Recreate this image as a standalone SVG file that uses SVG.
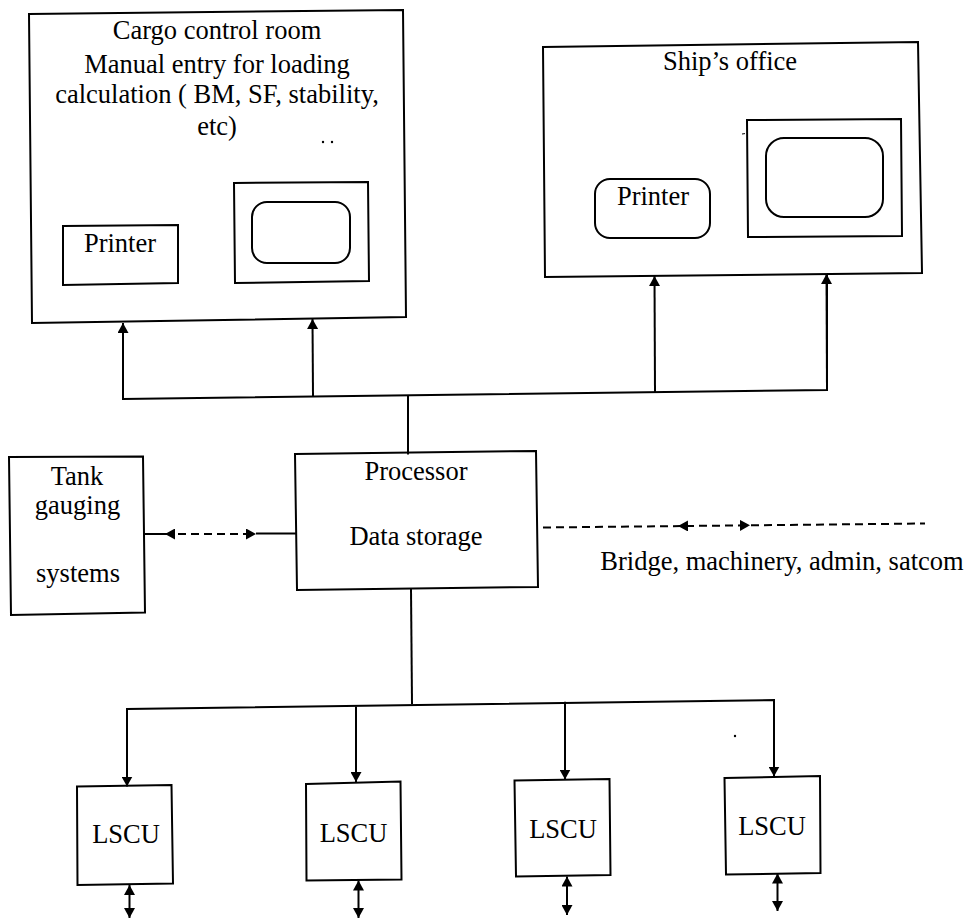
<svg xmlns="http://www.w3.org/2000/svg" width="973" height="920" viewBox="0 0 973 920">
  <style>
    .box { fill: #fff; stroke: #000; stroke-width: 2; stroke-linejoin: miter; }
    .inner { fill: none; stroke: #000; stroke-width: 2; }
    .lbl { font-family: "Liberation Serif", "Times New Roman", serif; font-size: 26.5px; fill: #000; text-anchor: middle; }
    .wire { fill: none; stroke: #000; stroke-width: 2; }
    .dash { fill: none; stroke: #000; stroke-width: 2; stroke-dasharray: 8 5; }
    .arrow { marker-end: url(#head); }
    .both { marker-start: url(#head); marker-end: url(#head); }
  </style>
  <defs>
    <marker id="head" viewBox="0 0 10 11" refX="10" refY="5.5" markerWidth="10" markerHeight="11" markerUnits="userSpaceOnUse" orient="auto-start-reverse">
      <path d="M0,0 L10,5.5 L0,11 z" fill="#000"/>
    </marker>
  </defs>
  <rect width="973" height="920" fill="#fff"/>

  <!-- Cargo control room -->
  <g id="cargo-control-room">
    <path class="box" d="M29,14 L403,10 L406,317 L32,323 Z"/>
    <text class="lbl" x="217" y="39">Cargo control room</text>
    <text class="lbl" x="217" y="73">Manual entry for loading</text>
    <text class="lbl" x="217" y="103">calculation ( BM, SF, stability,</text>
    <text class="lbl" x="217" y="135">etc)</text>
    <circle cx="323" cy="142" r="1.2" fill="#000"/>
    <circle cx="332" cy="142" r="1.2" fill="#000"/>
    <g id="cargo-printer">
      <path class="box" d="M63,226 L178,225 L178,283 L63,285 Z"/>
      <text class="lbl" x="120" y="252">Printer</text>
    </g>
    <g id="cargo-monitor">
      <path class="box" d="M234,183 L368,182 L369,281 L235,283 Z"/>
      <rect class="inner" x="252" y="202" width="98" height="61" rx="15"/>
    </g>
  </g>

  <!-- Ship's office -->
  <g id="ships-office">
    <path class="box" d="M543,47 L918,42 L922,273 L545,277 Z"/>
    <text class="lbl" x="730" y="70">Ship’s office</text>
    <path d="M742,134 L745,133.6" stroke="#000" stroke-width="1"/>
    <g id="office-printer">
      <rect class="box" x="595" y="179" width="115" height="59" rx="15"/>
      <text class="lbl" x="653" y="205">Printer</text>
    </g>
    <g id="office-monitor">
      <path class="box" d="M747,120 L901,119 L902,236 L748,237 Z"/>
      <rect class="inner" x="766" y="138" width="117" height="79" rx="18"/>
    </g>
  </g>

  <!-- Processor -->
  <g id="processor">
    <path class="box" d="M295,454 L536,451 L538,587 L297,590 Z"/>
    <text class="lbl" x="416" y="480">Processor</text>
    <text class="lbl" x="416" y="545">Data storage</text>
  </g>

  <!-- Tank gauging systems -->
  <g id="tank-gauging">
    <path class="box" d="M9,457 L143,456.5 L145,612.5 L11,615 Z"/>
    <text class="lbl" x="77" y="485">Tank</text>
    <text class="lbl" x="77.5" y="514">gauging</text>
    <text class="lbl" x="78" y="582">systems</text>
  </g>

  <!-- External systems label -->
  <g id="external-systems">
    <text class="lbl" x="782" y="570">Bridge, machinery, admin, satcom</text>
  </g>

  <!-- Local sampling control units -->
  <g id="lscu-1">
    <path class="box" d="M77,786.5 L171.5,785 L173,883.5 L77.5,885 Z"/>
    <text class="lbl" x="126" y="843">LSCU</text>
  </g>
  <g id="lscu-2">
    <path class="box" d="M306,784 L400.5,781.5 L401.5,879.5 L306.5,880.5 Z"/>
    <text class="lbl" x="353.5" y="841.5">LSCU</text>
  </g>
  <g id="lscu-3">
    <path class="box" d="M514.5,780.5 L609.5,779 L610.5,875 L516,876.5 Z"/>
    <text class="lbl" x="563" y="838">LSCU</text>
  </g>
  <g id="lscu-4">
    <path class="box" d="M724.5,778 L820,776 L820.5,873 L726,874.5 Z"/>
    <text class="lbl" x="772" y="835">LSCU</text>
  </g>

  <!-- Connectors -->
  <g id="connectors">
    <!-- upper bus to the cargo control room and ship's office -->
    <path class="wire" d="M123,323 L123,399 L827,390 L827,274"/>
    <path class="wire arrow" d="M123,399 L123,323"/>
    <path class="wire arrow" d="M313,396.6 L312.5,319"/>
    <path class="wire arrow" d="M655,392.2 L654.5,276"/>
    <path class="wire arrow" d="M827,390 L826.5,274"/>
    <path class="wire" d="M408,395.4 L408,454.5"/>

    <!-- tank gauging link -->
    <path class="wire" d="M145,534 L165,534"/>
    <path class="dash both" d="M165,534 L256,534"/>
    <path class="wire" d="M256,533.5 L296,533.5"/>

    <!-- link to bridge, machinery, admin, satcom -->
    <path class="dash" d="M543,527.5 L925,523.5"/>
    <path fill="none" stroke="none" class="both" d="M678,526.1 L750,525.3"/>

    <!-- lower bus to the LSCUs -->
    <path class="wire" d="M411,589 L412,704"/>
    <path class="wire" d="M127,786 L127,709 L774,700 L774,776"/>
    <path class="wire arrow" d="M127,709 L127,786.5"/>
    <path class="wire arrow" d="M356,706.5 L356,782"/>
    <path class="wire arrow" d="M565,701.7 L565,779.5"/>
    <path class="wire arrow" d="M774,700 L774,776.5"/>

    <!-- field connections below each LSCU -->
    <path class="wire both" d="M129.5,885 L129.5,918"/>
    <path class="wire both" d="M358.5,880.5 L358.5,918"/>
    <path class="wire both" d="M567,876.5 L567,915"/>
    <path class="wire both" d="M777.5,873.5 L777.5,911"/>
    <circle cx="735" cy="736" r="1.2" fill="#000"/>
  </g>
</svg>
